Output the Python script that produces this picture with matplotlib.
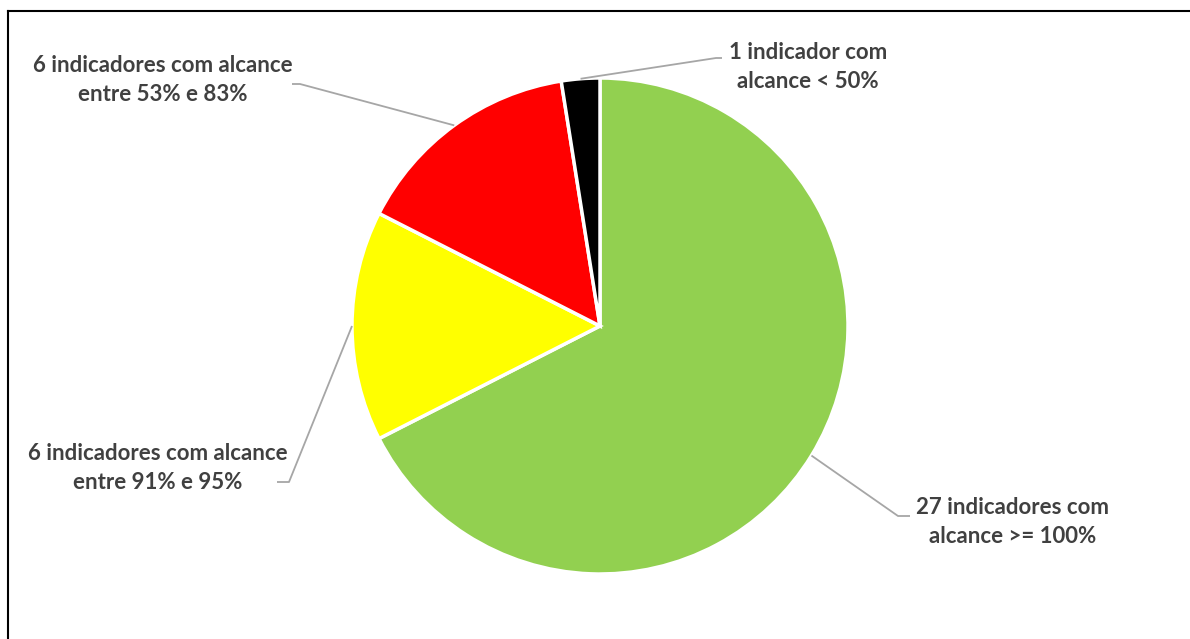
import numpy as np
import matplotlib
matplotlib.use('Agg')
import matplotlib.pyplot as plt
from matplotlib.lines import Line2D

# dados do grafico
counts = [27, 6, 6, 1]
labels = ['27 indicadores com\nalcance >= 100%',
          '6 indicadores com alcance\nentre 91% e 95%',
          '6 indicadores com alcance\nentre 53% e 83%',
          '1 indicador com\nalcance < 50%']
colors = ['#92D050', '#FFFF00', '#FF0000', '#000000']

W, H = 1190, 639
fig = plt.figure(figsize=(W / 100, H / 100), dpi=100)
ax = fig.add_axes([0, 0, 1, 1])

cx, cy, r = 600, H - 326, 248
wedges, _ = ax.pie(counts, colors=colors, startangle=90, counterclock=False,
                   center=(cx, cy), radius=r, frame=True,
                   wedgeprops=dict(edgecolor='white', linewidth=2.5))
ax.set_xlim(0, W)
ax.set_ylim(0, H)
ax.set_aspect('equal')
ax.axis('off')

# posicoes dos rotulos (pixels) : cotovelo, fim da linha, texto
layout = [
    ((898, 516), (910, 516), (1013, 522)),
    ((289, 482), (277, 482), (158, 468)),
    ((300, 84), (292, 84), (163, 80)),
    ((716, 58), (722, 58), (808, 67)),
]

for w, lab, (elbow, end, txt) in zip(wedges, labels, layout):
    ang = np.deg2rad((w.theta1 + w.theta2) / 2)
    px, py = cx + r * np.cos(ang), cy + r * np.sin(ang)
    ax.plot([px, elbow[0], end[0]], [py, H - elbow[1], H - end[1]],
            color='#A6A6A6', lw=1.3, solid_capstyle='butt')
    ax.text(txt[0], H - txt[1], lab, ha='center', va='center', fontsize=16,
            fontweight='bold', color='#404040', family='Lato',
            linespacing=1.5)

# moldura (so topo e esquerda visiveis)
fig.add_artist(Line2D([8 / W, 1], [1 - 11 / H, 1 - 11 / H], color='black', lw=1.5))
fig.add_artist(Line2D([8 / W, 8 / W], [0, 1 - 11 / H], color='black', lw=1.5))

fig.savefig('out.png', dpi=100, facecolor='white')
